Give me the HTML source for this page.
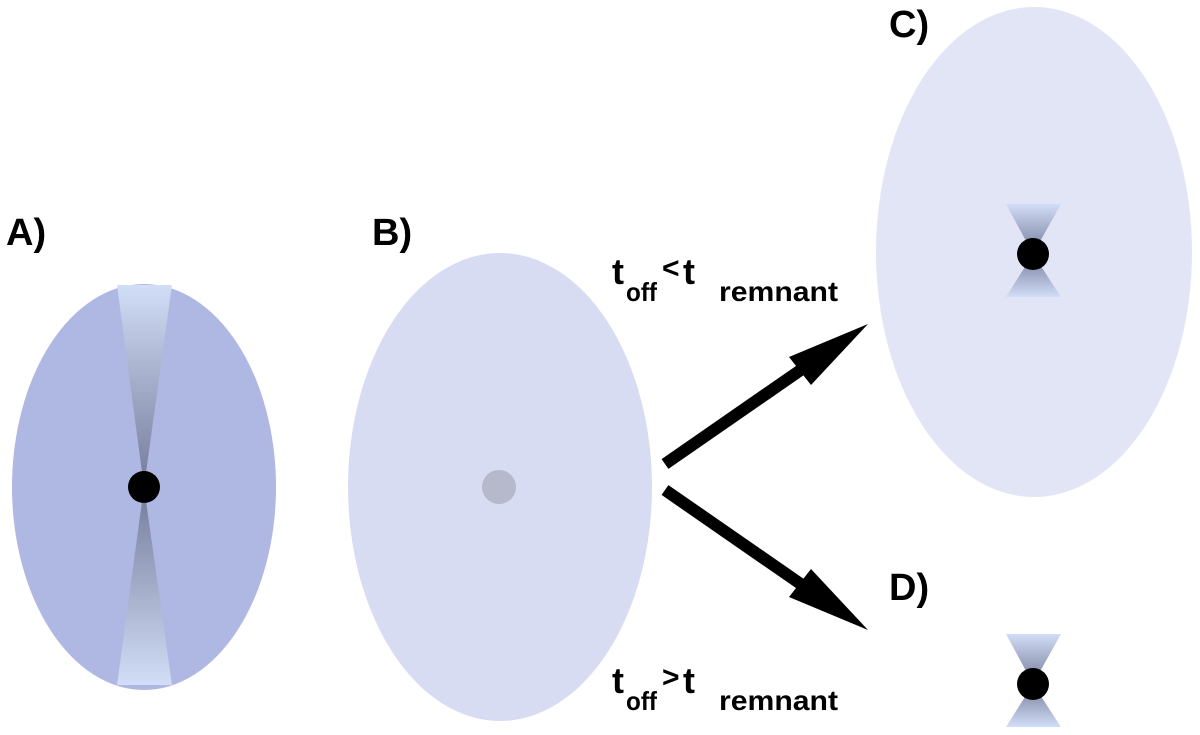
<!DOCTYPE html>
<html><head><meta charset="utf-8"><style>html,body{margin:0;padding:0;background:#fff}svg{display:block}text{font-family:"Liberation Sans",sans-serif;font-weight:bold;fill:#000}</style></head>
<body>
<svg width="1200" height="735" viewBox="0 0 1200 735" xmlns="http://www.w3.org/2000/svg">
<defs>
<linearGradient id="jt" x1="0" y1="0" x2="0" y2="1"><stop offset="0" stop-color="#d2ddf7"/><stop offset="1" stop-color="#737b98"/></linearGradient>
<linearGradient id="jb" x1="0" y1="1" x2="0" y2="0"><stop offset="0" stop-color="#d2ddf7"/><stop offset="1" stop-color="#737b98"/></linearGradient>
</defs>
<ellipse cx="144" cy="487" rx="132" ry="203" fill="#afb7e3"/>
<polygon points="117,285 172,285 144,487" fill="url(#jt)"/>
<polygon points="117,685 172,685 144,487" fill="url(#jb)"/>
<circle cx="144" cy="487" r="16" fill="#000"/>
<ellipse cx="500" cy="487" rx="152" ry="234" fill="#d8dcf2"/>
<circle cx="499" cy="487" r="17" fill="#b6b8cc"/>
<ellipse cx="1034" cy="252" rx="158" ry="245" fill="#e2e5f5"/>
<polygon points="1006,204 1061,204 1033,254" fill="url(#jt)"/>
<polygon points="1006,297 1061,297 1033,254" fill="url(#jb)"/>
<circle cx="1033" cy="254" r="16" fill="#000"/>
<polygon points="1006,634 1061,634 1033,684" fill="url(#jt)"/>
<polygon points="1006,727 1061,727 1033,684" fill="url(#jb)"/>
<circle cx="1033" cy="684" r="16" fill="#000"/>
<line x1="665" y1="464" x2="805" y2="367" stroke="#000" stroke-width="12"/>
<polygon points="868,324 789,357 811,385" fill="#000"/>
<line x1="665" y1="490" x2="805" y2="587" stroke="#000" stroke-width="12"/>
<polygon points="868,630 789,597 811,569" fill="#000"/>
<text x="6" y="245" font-size="38">A)</text>
<text x="372" y="245" font-size="38">B)</text>
<text x="889" y="37" font-size="38">C)</text>
<text x="889" y="600" font-size="38">D)</text>
<text x="612" y="284" font-size="36">t</text>
<text x="626" y="301" font-size="26" textLength="31" lengthAdjust="spacingAndGlyphs">off</text>
<text x="662" y="278" font-size="30">&lt;</text>
<text x="683" y="284" font-size="36">t</text>
<text x="719" y="301" font-size="28" textLength="119" lengthAdjust="spacingAndGlyphs">remnant</text>
<text x="612" y="693" font-size="36">t</text>
<text x="626" y="710" font-size="26" textLength="31" lengthAdjust="spacingAndGlyphs">off</text>
<text x="662" y="687" font-size="30">&gt;</text>
<text x="683" y="693" font-size="36">t</text>
<text x="719" y="710" font-size="28" textLength="119" lengthAdjust="spacingAndGlyphs">remnant</text>
</svg>
</body></html>
